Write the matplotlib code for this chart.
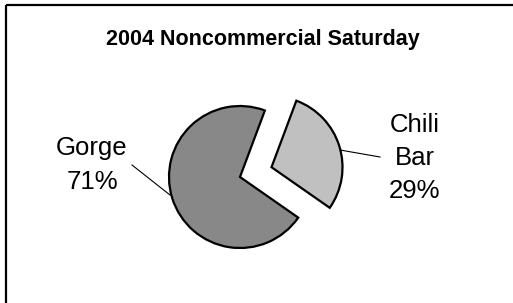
import matplotlib
matplotlib.use("Agg")
import matplotlib.pyplot as plt
import numpy as np

title = "2004 Noncommercial Saturday"
categories = ["Chili\nBar", "Gorge"]
values = [29, 71]
colors = ["#c0c0c0", "#888888"]

W, H = 513, 303
plt.rcParams["font.family"] = ["Liberation Sans", "DejaVu Sans"]
fig = plt.figure(figsize=(W / 100, H / 100), dpi=100)
ax = fig.add_axes([0, 0, 1, 1])

# frame (top and left edges)
ax.plot([6, W], [H - 5, H - 5], color="black", lw=1.6, solid_capstyle="butt")
ax.plot([6, 6], [H - 5, 0], color="black", lw=1.6, solid_capstyle="butt")

cx, cy, r = 240, H - 177, 71
wedges, _ = ax.pie(values, colors=colors, startangle=69.5, counterclock=False,
                   explode=[33, 0], center=(cx, cy), radius=r, frame=True,
                   wedgeprops=dict(edgecolor="black", linewidth=1.6))
ax.set_xlim(0, W)
ax.set_ylim(0, H)
ax.set_aspect("equal")
ax.axis("off")

ax.text(263, H - 40, title, ha="center", va="center", fontsize=15.5,
        fontweight="bold")

# labels
pcts = [f"{v}%" for v in values]
ax.text(415, H - 158, f"{categories[0]}\n{pcts[0]}", ha="center", va="center",
        fontsize=18.5, linespacing=1.5)
ax.text(92, H - 165, f"{categories[1]}\n{pcts[1]}", ha="center", va="center",
        fontsize=18.5, linespacing=1.5)

# leader lines
ax.plot([340, 380], [H - 150, H - 157], color="black", lw=0.8)
ax.plot([132, 170], [H - 165, H - 195], color="black", lw=0.8)

fig.savefig("out.png", dpi=100)
